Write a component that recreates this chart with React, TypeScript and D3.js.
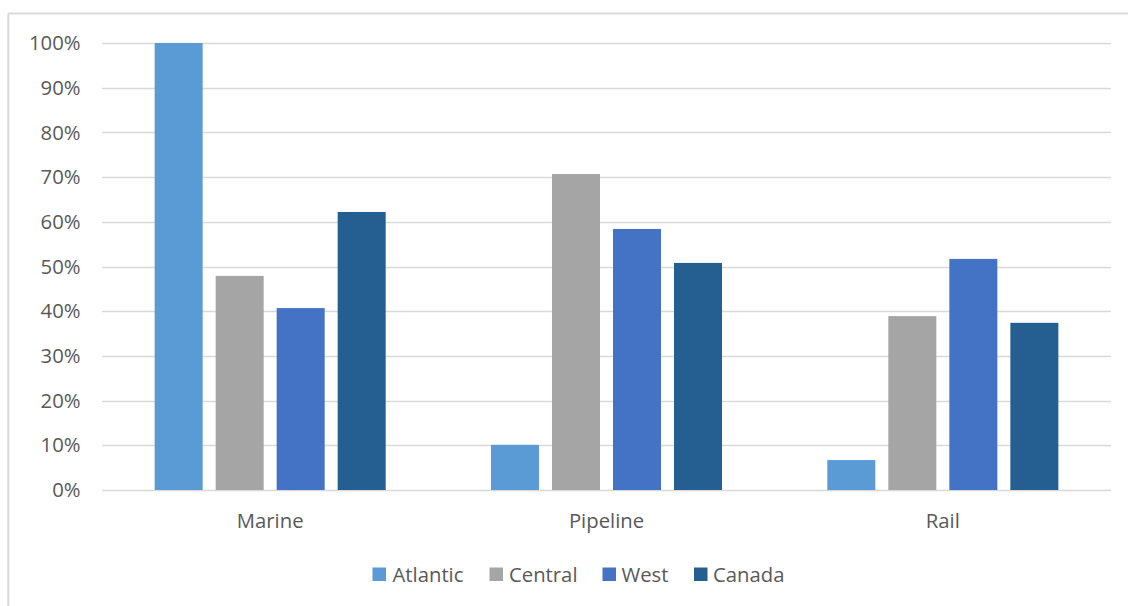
import React from "react";
import * as d3 from "d3";

const categories = ["Marine", "Pipeline", "Rail"];
const seriesNames = ["Atlantic", "Central", "West", "Canada"];
const atlantic = [100, 10.1, 6.7];
const central = [47.9, 70.7, 38.9];
const west = [40.7, 58.4, 51.7];
const canada = [62.2, 50.8, 37.4];
const yTicks = [0, 10, 20, 30, 40, 50, 60, 70, 80, 90, 100];
const colors = ["#5B9BD5", "#A5A5A5", "#4472C4", "#255E91"];

const seriesValues = [atlantic, central, west, canada];

const W = 1128;
const H = 606;
const plotLeft = 102;
const plotRight = 1111;
const plotTop = 43;
const plotBottom = 490;
const FONT = "'Open Sans', 'Segoe UI', sans-serif";
const TXT = "#595959";
const FS = 20.3;

export default function App() {
  const x0 = d3.scaleBand<string>().domain(categories).range([plotLeft, plotRight]).padding(0);
  const x1 = d3
    .scaleBand<string>()
    .domain(seriesNames)
    .range([0, x0.bandwidth()])
    .paddingInner(0.213)
    .paddingOuter(0.863);
  const y = d3.scaleLinear().domain([0, 100]).range([plotBottom, plotTop]);

  const legendItems = [
    { name: "Atlantic", sq: 372.5, tx: 392.5 },
    { name: "Central", sq: 489.5, tx: 509 },
    { name: "West", sq: 602.5, tx: 621.5 },
    { name: "Canada", sq: 694, tx: 713 },
  ];

  return (
    <svg
      width={W}
      height={H}
      style={{ position: "absolute", left: 0, top: 0, background: "#fff" }}
      fontFamily={FONT}
    >
      <rect x={0} y={0} width={W} height={H} fill="#fff" />
      {/* chart border */}
      <line x1={8.3} y1={13.5} x2={W} y2={13.5} stroke="#D9D9D9" strokeWidth={2} />
      <line x1={8.3} y1={13.5} x2={8.3} y2={H} stroke="#D9D9D9" strokeWidth={2} />

      {/* gridlines */}
      {yTicks.map((t) => (
        <line
          key={t}
          x1={plotLeft}
          x2={plotRight}
          y1={Math.round(y(t)) + 0.5}
          y2={Math.round(y(t)) + 0.5}
          stroke="#D9D9D9"
          strokeWidth={1.3}
        />
      ))}
      {/* y tick labels */}
      {yTicks.map((t) => (
        <text
          key={"l" + t}
          x={80.5}
          y={y(t)}
          dy="0.35em"
          textAnchor="end"
          fontSize={FS}
          fill={TXT}
        >
          {t + "%"}
        </text>
      ))}

      {/* bars */}
      {categories.map((c, ci) => (
        <g key={c} transform={`translate(${x0(c)},0)`}>
          {seriesNames.map((s, si) => {
            const v = seriesValues[si][ci];
            return (
              <rect
                key={s}
                x={x1(s)}
                y={y(v)}
                width={x1.bandwidth()}
                height={plotBottom - y(v)}
                fill={colors[si]}
              />
            );
          })}
        </g>
      ))}

      {/* category labels */}
      {categories.map((c) => (
        <text
          key={"c" + c}
          x={(x0(c) as number) + x0.bandwidth() / 2}
          y={528}
          textAnchor="middle"
          fontSize={FS}
          fill={TXT}
        >
          {c}
        </text>
      ))}

      {/* legend */}
      {legendItems.map((it, i) => (
        <g key={it.name}>
          <rect x={it.sq} y={567.5} width={13.5} height={13.5} fill={colors[i]} />
          <text x={it.tx} y={581.5} fontSize={FS} fill={TXT}>
            {it.name}
          </text>
        </g>
      ))}
    </svg>
  );
}
